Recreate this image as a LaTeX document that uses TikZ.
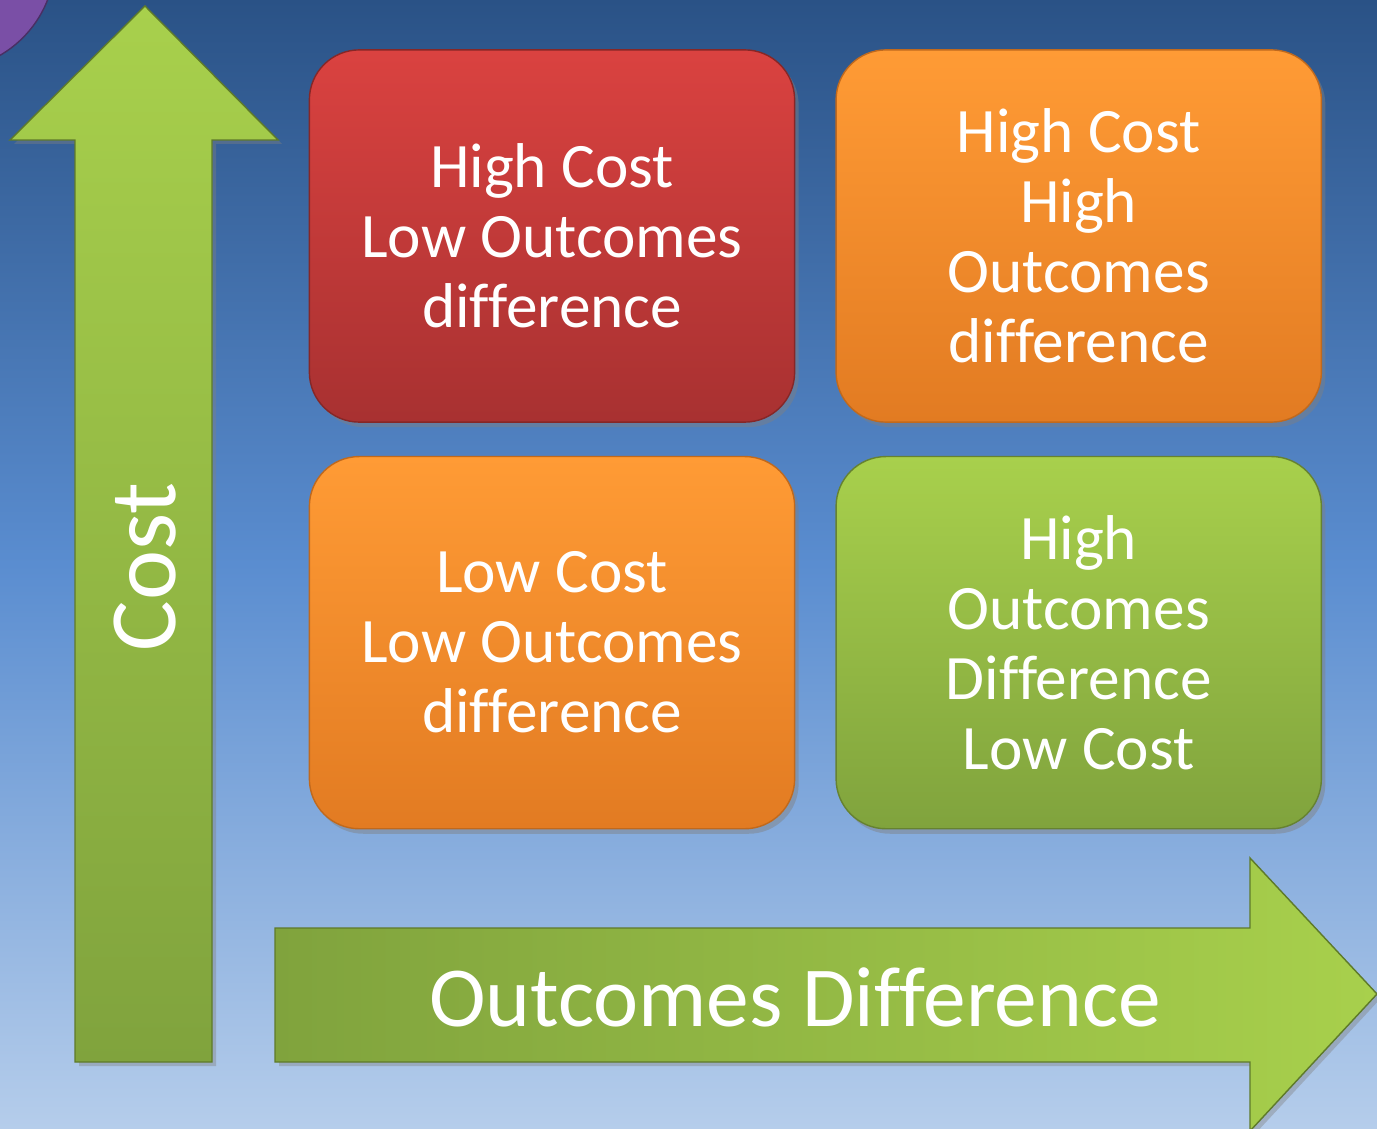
\documentclass[tikz,border=0pt]{standalone}
\usepackage{fontspec}
\setmainfont{Carlito}[Ligatures=NoCommon]
\usetikzlibrary{shadows, positioning}

\definecolor{bgtop}{HTML}{2A5286}
\definecolor{bgmid}{HTML}{5A8DD0}
\definecolor{bgbot}{HTML}{B5CDEB}
\definecolor{redtop}{HTML}{DA4240}
\definecolor{redbot}{HTML}{A83131}
\definecolor{orangetop}{HTML}{FF9B35}
\definecolor{orangebot}{HTML}{E27B22}
\definecolor{greentop}{HTML}{A8D04C}
\definecolor{greenbot}{HTML}{80A33D}
\definecolor{greenedge}{HTML}{5E7A2A}
\definecolor{purplecirc}{HTML}{7A4FA6}

\begin{document}
\begin{tikzpicture}[
    x=0.01cm, y=-0.01cm,
    quadbox/.style={rectangle, rounded corners=0.5cm, minimum width=4.85cm, minimum height=3.72cm,
        align=center, text=white, font=\fontsize{18}{19.9}\selectfont,
        drop shadow={shadow xshift=0.04cm, shadow yshift=-0.05cm, opacity=0.45}},
    redbox/.style={quadbox, top color=redtop, bottom color=redbot, draw=redbot!80!black},
    orangebox/.style={quadbox, top color=orangetop, bottom color=orangebot, draw=orangebot!85!black},
    greenbox/.style={quadbox, top color=greentop, bottom color=greenbot, draw=greenbot!80!black},
    axislabel/.style={text=white, font=\fontsize{24.3}{28}\selectfont}
]

% Background
\useasboundingbox (0,0) rectangle (1377,1128);
\shade[top color=bgtop, bottom color=bgbot, middle color=bgmid] (0,0) rectangle (1377,1128);
\fill[purplecirc, draw=purplecirc!60!black] (-55,-40) circle (1.1cm);

% Axis arrows
\shade[top color=greentop, bottom color=greenbot, draw=greenedge, drop shadow={shadow xshift=0.04cm, shadow yshift=-0.04cm, opacity=0.4}]
    (75,1062) -- (75,140) -- (10,140) -- (145,6) -- (278,140) -- (212,140) -- (212,1062) -- cycle;
\shade[left color=greenbot, right color=greentop, draw=greenedge, drop shadow={shadow xshift=0.04cm, shadow yshift=-0.04cm, opacity=0.4}]
    (275,928) -- (1250,928) -- (1250,858) -- (1377,994) -- (1250,1131) -- (1250,1062) -- (275,1062) -- cycle;

\node[axislabel, rotate=90, font=\fontsize{27}{30}\selectfont] (cost) at (145,567) {Cost};
\node[axislabel] (outcomes) at (795,997) {Outcomes Difference};

% Quadrants
\node[redbox] (hclo) at (552,236) {High Cost\\Low Outcomes\\difference};
\node[orangebox, right=0.4cm of hclo] (hcho) {High Cost\\High\\Outcomes\\difference};
\node[orangebox, below=0.33cm of hclo] (lclo) {Low Cost\\Low Outcomes\\difference};
\node[greenbox, right=0.4cm of lclo] (hoddl) {High\\Outcomes\\Difference\\Low Cost};

\end{tikzpicture}
\end{document}
